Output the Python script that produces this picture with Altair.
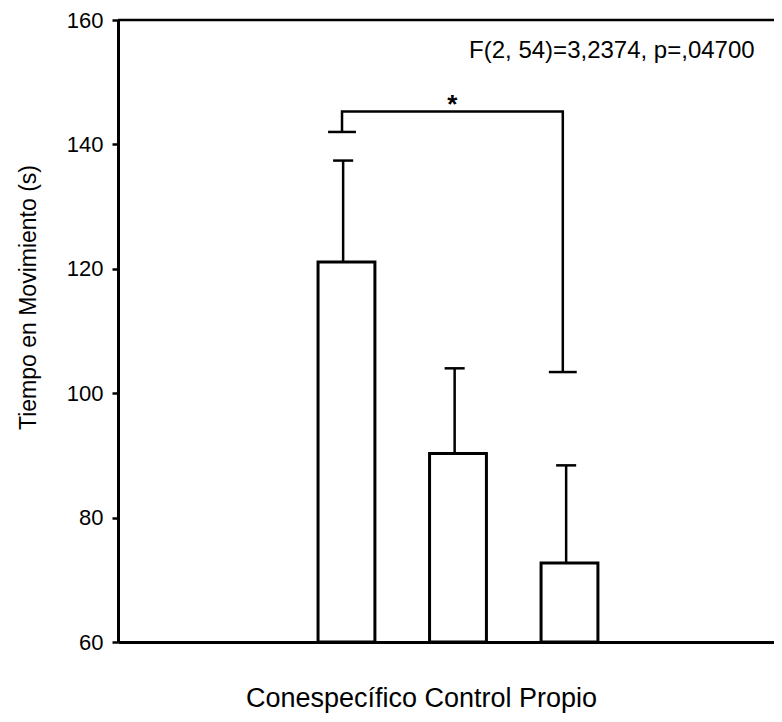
import altair as alt
import pandas as pd

# ---- data ----
categories = ["Conespecífico", "Control", "Propio"]
positions = [2, 3, 4]
means = [121.1, 90.3, 72.7]
upper = [137.4, 104.0, 88.4]

# significance bracket (x in category-position units, y in seconds)
bracket_x = [1.96, 1.96, 3.94, 3.94]
bracket_y = [142.0, 145.3, 145.3, 103.4]
bracket_cap_x = [1.96, 3.94]
bracket_cap_y = [142.0, 103.4]
star_x = [2.95]
star_y = [145.3]
star_text = ["*"]

stat_text = ["F(2, 54)=3,2374, p=,04700"]
stat_x = [4.38]
stat_y = [153.9]

y_ticks = [60, 80, 100, 120, 140, 160]

FONT = "Liberation Sans"
BAR_HALF = 0.255
CAP_HALF = 0.09
BR_CAP_HALF = 0.125
ERR_SHIFT = -0.03

bars = pd.DataFrame({
    "cat": categories,
    "pos": positions,
    "mean": means,
    "upper": upper,
})
bars["x0"] = bars["pos"] - BAR_HALF
bars["x1"] = bars["pos"] + BAR_HALF
bars["ex"] = bars["pos"] + ERR_SHIFT
bars["cl"] = bars["ex"] - CAP_HALF
bars["cr"] = bars["ex"] + CAP_HALF

bracket = pd.DataFrame({"bx": bracket_x, "by": bracket_y, "o": list(range(len(bracket_x)))})
bcaps = pd.DataFrame({"cx": bracket_cap_x, "cy": bracket_cap_y})
bcaps["cl"] = bcaps["cx"] - BR_CAP_HALF
bcaps["cr"] = bcaps["cx"] + BR_CAP_HALF
star = pd.DataFrame({"sx": star_x, "sy": star_y, "t": star_text})
stat = pd.DataFrame({"sx": stat_x, "sy": stat_y, "t": stat_text})

xs = alt.Scale(domain=[-0.049, 5.834], nice=False, zero=False)
ys = alt.Scale(domain=[60, 160], nice=False, zero=False)

x_axis = alt.Axis(
    title="Conespecífico Control Propio",
    labels=False, ticks=False, grid=False,
    domain=True, domainColor="black", domainWidth=3,
    titleFont=FONT, titleFontSize=27, titleFontWeight="normal", titleColor="black",
    titleX=303, titleY=64, titleBaseline="alphabetic", titleAlign="center",
)
y_axis = alt.Axis(
    title="Tiempo en Movimiento (s)",
    values=y_ticks, grid=False,
    domain=True, domainColor="black", domainWidth=3,
    ticks=True, tickSize=6, tickWidth=2.5, tickColor="black",
    labelFont=FONT, labelFontSize=22, labelColor="black", labelPadding=9,
    titleFont=FONT, titleFontSize=23, titleFontWeight="normal", titleColor="black",
    titleAngle=270, titleX=-83, titleY=277, titleBaseline="alphabetic", titleAlign="center",
)

def X(field):
    return alt.X(field, type="quantitative", scale=xs, axis=x_axis)

def Y(field):
    return alt.Y(field, type="quantitative", scale=ys, axis=y_axis)

bar_layer = alt.Chart(bars).mark_bar(fill="white", stroke="black", strokeWidth=3).encode(
    x=X("x0"), x2="x1", y=Y("mean"), y2=alt.datum(60)
)
err_layer = alt.Chart(bars).mark_rule(color="black", strokeWidth=2.5).encode(
    x=X("ex"), y=Y("mean"), y2="upper"
)
cap_layer = alt.Chart(bars).mark_rule(color="black", strokeWidth=2.5).encode(
    x=X("cl"), x2="cr", y=Y("upper")
)
bracket_layer = alt.Chart(bracket).mark_line(color="black", strokeWidth=2.5).encode(
    x=X("bx"), y=Y("by"), order="o:Q"
)
bcap_layer = alt.Chart(bcaps).mark_rule(color="black", strokeWidth=2.5).encode(
    x=X("cl"), x2="cr", y=Y("cy")
)
star_layer = alt.Chart(star).mark_text(
    font=FONT, fontSize=26, fontWeight="bold", color="black",
    align="center", baseline="alphabetic", dy=2,
).encode(x=X("sx"), y=Y("sy"), text="t:N")
stat_layer = alt.Chart(stat).mark_text(
    font=FONT, fontSize=24, color="black", align="center", baseline="alphabetic",
).encode(x=X("sx"), y=Y("sy"), text="t:N")
top_border = alt.Chart(pd.DataFrame({"v": [160]})).mark_rule(color="black", strokeWidth=2.5).encode(
    y=Y("v")
)

chart = alt.layer(
    top_border, bar_layer, err_layer, cap_layer, bracket_layer, bcap_layer, star_layer, stat_layer
).properties(
    width=656, height=622,
    padding={"left": 110, "top": 12, "right": 0, "bottom": 71},
    autosize=alt.AutoSizeParams(type="none"),
).configure_view(stroke=None).configure(background="white")

chart.save("out.html", embed_options={"renderer": "svg", "actions": False})
